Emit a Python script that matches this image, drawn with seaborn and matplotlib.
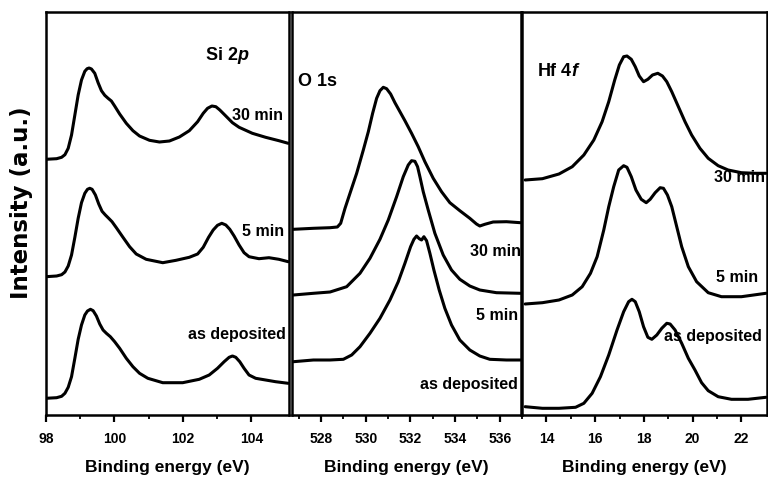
import numpy as np
import pandas as pd
import matplotlib
matplotlib.use("Agg")
import matplotlib.pyplot as plt
import seaborn as sns

# ---------------- data ----------------
# Si 2p panel
si_30_x = [98.000, 98.310, 98.456, 98.553, 98.649, 98.746, 98.843, 98.940, 99.037, 99.134, 99.202, 99.260,
           99.328, 99.425, 99.522, 99.619, 99.716, 99.813, 99.910, 100.006, 100.152, 100.346, 100.540,
           100.733, 101.024, 101.315, 101.606, 101.897, 102.187, 102.430, 102.594, 102.720, 102.847, 102.963,
           103.079, 103.254, 103.448, 103.642, 104.029, 104.417, 104.805, 105.076]
si_30_y = [255.7, 256.3, 257.7, 260.3, 266.7, 280, 300, 320, 335, 343.7, 346.3, 347, 346, 341.7, 332.3,
           324.3, 319.7, 316.7, 314, 309, 301, 291.7, 284.3, 279, 274.7, 273, 274, 278, 284.3, 293.3, 301.7,
           306.7, 309, 308.3, 305, 299, 292.3, 287.7, 281.7, 277.7, 274.3, 271.7]
si_5_x = [98.000, 98.310, 98.456, 98.553, 98.649, 98.746, 98.843, 98.940, 99.037, 99.134, 99.212, 99.279,
          99.347, 99.444, 99.541, 99.638, 99.735, 99.832, 99.929, 100.055, 100.249, 100.443, 100.636,
          100.927, 101.412, 101.800, 102.187, 102.430, 102.594, 102.750, 102.885, 103.011, 103.137, 103.254,
          103.370, 103.496, 103.642, 103.787, 103.932, 104.223, 104.514, 104.805, 105.076]
si_5_y = [138.3, 139, 140.3, 143, 149, 160, 177.7, 196.7, 212.3, 221.7, 225.7, 226.7, 225.7, 220, 211,
          203.7, 200, 196.7, 193.3, 187.3, 177.7, 168.3, 161, 155.7, 152.3, 154.7, 157.7, 161, 167.7, 177.7,
          185, 189.7, 191.7, 190, 185.7, 179, 170, 162.3, 158.3, 156.3, 157.3, 155.7, 153.3]
si_ad_x = [98.000, 98.310, 98.456, 98.553, 98.649, 98.746, 98.843, 98.940, 99.037, 99.134, 99.212, 99.299,
           99.377, 99.473, 99.570, 99.667, 99.764, 99.880, 100.006, 100.152, 100.346, 100.540, 100.733,
           100.976, 101.412, 101.994, 102.478, 102.769, 103.011, 103.205, 103.351, 103.448, 103.545, 103.661,
           103.787, 103.932, 104.126, 104.417, 104.708, 105.076]
si_ad_y = [16.7, 17.3, 18.7, 21.7, 27.7, 38.3, 56.7, 75.7, 90, 100, 104, 105.7, 104.3, 99, 91, 85, 81.7,
           78.3, 73.3, 66.7, 56.7, 48.3, 41.7, 36.7, 32.3, 32.3, 35.7, 40, 46.7, 53.3, 57.7, 59, 57.7, 53.3,
           46.7, 40, 36.7, 35, 33.3, 31.7]

# O 1s panel
o_30_x = [526.763, 527.657, 528.402, 528.730, 528.879, 529.073, 529.296, 529.594, 529.892, 530.116, 530.309,
          530.488, 530.637, 530.786, 530.935, 531.114, 531.307, 531.531, 531.754, 532.052, 532.350, 532.648,
          533.021, 533.393, 533.766, 534.212, 534.659, 534.957, 535.106, 535.330, 535.702, 536.298, 536.924]
o_30_y = [185.7, 186.7, 187.3, 188, 191.7, 206.7, 221.7, 241.7, 265, 283.3, 301.7, 316.7, 324.3, 327.7,
          326.3, 321, 312.3, 303.3, 294.3, 281.7, 268.3, 253.3, 236.7, 223.3, 212.3, 204.3, 196.7, 191, 189,
          190.7, 193, 193.3, 192.3]
o_5_x = [526.763, 527.657, 528.402, 529.147, 529.743, 530.190, 530.637, 531.009, 531.382, 531.680, 531.903,
         532.052, 532.201, 532.320, 532.425, 532.574, 532.797, 533.095, 533.468, 533.840, 534.212, 534.659,
         535.106, 535.851, 536.924]
o_5_y = [120, 121.7, 123, 128.3, 141.7, 156.7, 175.7, 195, 218.3, 238.3, 250, 254.3, 253.7, 248.3, 238.3,
         223.3, 205, 181.7, 160, 145, 135.7, 129, 125, 122.3, 121.7]
o_ad_x = [526.763, 527.657, 528.402, 528.998, 529.371, 529.743, 530.190, 530.637, 531.084, 531.456, 531.754,
          532.008, 532.157, 532.276, 532.395, 532.499, 532.604, 532.723, 532.872, 533.051, 533.289, 533.542,
          533.840, 534.212, 534.659, 535.106, 535.553, 536.298, 536.924]
o_ad_y = [53.3, 55, 55, 55.7, 60, 68.3, 81.7, 96.7, 115, 133.3, 151.7, 168.3, 175.7, 179, 176.3, 175, 178.3,
          174.3, 161.7, 145, 125, 106.7, 90, 75, 65, 59, 55.7, 55, 55]

# Hf 4f panel
hf_30_x = [13.129, 13.837, 14.517, 15.061, 15.537, 15.946, 16.286, 16.558, 16.803, 16.993, 17.170, 17.306,
           17.483, 17.646, 17.809, 17.986, 18.163, 18.354, 18.571, 18.762, 18.939, 19.143, 19.415, 19.687,
           19.959, 20.299, 20.639, 21.047, 21.455, 22.000, 22.544, 23.006]
hf_30_y = [235, 236.3, 241, 248.3, 260, 275, 293.3, 313.3, 335, 350, 358.3, 359, 355.7, 348.3, 339, 333.3,
           335.7, 340, 341.7, 339, 333.3, 323.3, 308.3, 293.3, 280, 266.7, 256.7, 249.3, 245, 242.3, 241.7,
           241.7]
hf_5_x = [13.129, 13.837, 14.517, 15.061, 15.469, 15.809, 16.082, 16.354, 16.558, 16.762, 16.966, 17.170,
          17.306, 17.483, 17.673, 17.891, 18.095, 18.258, 18.462, 18.667, 18.803, 18.966, 19.143, 19.347,
          19.551, 19.823, 20.163, 20.639, 21.183, 22.000, 23.006]
hf_5_y = [111, 112.3, 115, 120, 128.3, 141.7, 158.3, 185, 208.3, 228.3, 245, 249.3, 247.7, 238.3, 225,
          215.7, 212.3, 215.7, 222.3, 227.3, 226.7, 220, 208.3, 188.3, 168.3, 148.3, 133.3, 122.3, 118.3,
          118.3, 121.7]
hf_ad_x = [13.129, 13.837, 14.517, 15.197, 15.537, 15.877, 16.218, 16.558, 16.898, 17.170, 17.374, 17.510,
           17.646, 17.809, 17.986, 18.163, 18.326, 18.530, 18.734, 18.939, 19.075, 19.279, 19.551, 19.823,
           20.095, 20.367, 20.639, 21.047, 21.592, 22.272, 23.006]
hf_ad_y = [8.3, 6.7, 6.7, 7.7, 11.7, 21.7, 38.3, 60, 85, 103.3, 113.3, 115.7, 113.3, 103.3, 88.3, 77.7,
           75.7, 80, 86.7, 91.7, 91, 85, 71.7, 56.7, 45, 32.3, 24.3, 18.3, 15.7, 15.7, 17.7]

samples = ["30 min", "5 min", "as deposited"]
panel_titles = ["Si 2$p$", "O 1s", "Hf 4$f$"]
xlims = [(98, 105.1), (526.7, 536.95), (13.0, 23.05)]
major_ticks = [[98, 100, 102, 104], [528, 530, 532, 534, 536], [14, 16, 18, 20, 22]]
minor_ticks = [[99, 101, 103], [527, 529, 531, 533, 535], [13, 15, 17, 19, 21]]
xlabel = "Binding energy (eV)"
ylabel = "Intensity (a.u.)"

panels = [
    [(si_30_x, si_30_y), (si_5_x, si_5_y), (si_ad_x, si_ad_y)],
    [(o_30_x, o_30_y), (o_5_x, o_5_y), (o_ad_x, o_ad_y)],
    [(hf_30_x, hf_30_y), (hf_5_x, hf_5_y), (hf_ad_x, hf_ad_y)],
]

# label positions (data coords), layout only
title_pos = [(103.3, 360, "center"), (526.95, 334, "left"), (13.62, 343, "left")]
label_pos = [
    [(104.93, 300), (104.96, 183), (105.02, 80)],
    [(536.93, 163), (536.82, 100), (536.82, 30)],
    [(22.98, 238), (22.7, 138), (22.82, 78)],
]

# ---------------- style ----------------
sns.set_style("ticks")
FONT = ["Liberation Sans", "DejaVu Sans"]
plt.rcParams["font.family"] = FONT
plt.rcParams["font.weight"] = "bold"
plt.rcParams["text.color"] = "black"
plt.rcParams["axes.labelcolor"] = "black"
plt.rcParams["xtick.color"] = "black"
plt.rcParams["ytick.color"] = "black"
plt.rcParams["mathtext.fontset"] = "custom"
plt.rcParams["mathtext.rm"] = "Liberation Sans:bold"
plt.rcParams["mathtext.it"] = "Liberation Sans:italic:bold"

fig = plt.figure(figsize=(7.68, 4.84), dpi=100)
W, H = 768, 484
boxes = [(46, 289), (292, 521), (522, 767)]
top_px, bot_px = 12, 415

for i, (x0, x1) in enumerate(boxes):
    ax = fig.add_axes([x0 / W, 1 - bot_px / H, (x1 - x0) / W, (bot_px - top_px) / H])
    rows = []
    for s, (xs, ys) in zip(samples, panels[i]):
        rows.append(pd.DataFrame({"energy": xs, "intensity": ys, "sample": s}))
    df = pd.concat(rows, ignore_index=True)
    sns.lineplot(data=df, x="energy", y="intensity", units="sample", estimator=None,
                 sort=False, color="black", linewidth=2.2, ax=ax, legend=False)
    for ln in ax.get_lines():
        ln.set_solid_joinstyle("round")
        ln.set_solid_capstyle("round")
    ax.set_xlim(*xlims[i])
    ax.set_ylim(0, 403)
    ax.set_xticks(major_ticks[i])
    ax.set_xticks(minor_ticks[i], minor=True)
    ax.set_xticklabels([str(t) for t in major_ticks[i]], fontsize=10, fontweight="bold")
    ax.set_yticks([])
    ax.tick_params(axis="x", which="major", direction="out", length=5, width=1.6, pad=7, colors="black")
    ax.tick_params(axis="x", which="minor", direction="out", length=3, width=1.3, colors="black")
    for sp in ax.spines.values():
        sp.set_visible(True)
        sp.set_linewidth(1.8)
        sp.set_color("black")
    ax.set_xlabel(xlabel, fontsize=12.5, fontweight="bold", labelpad=10)
    ax.set_ylabel("")
    tx, ty, ha = title_pos[i]
    ax.text(tx, ty, panel_titles[i], fontsize=13, fontweight="bold", ha=ha, va="center")
    for s, (lx, ly) in zip(samples, label_pos[i]):
        ax.text(lx, ly, s, fontsize=11.5, fontweight="bold", ha="right", va="center")

fig.text(22 / W, 1 - 203 / H, ylabel, rotation=90, ha="center", va="center",
         fontsize=16.5, fontweight="bold", family=["DejaVu Sans"])

fig.savefig("out.png", dpi=100)
